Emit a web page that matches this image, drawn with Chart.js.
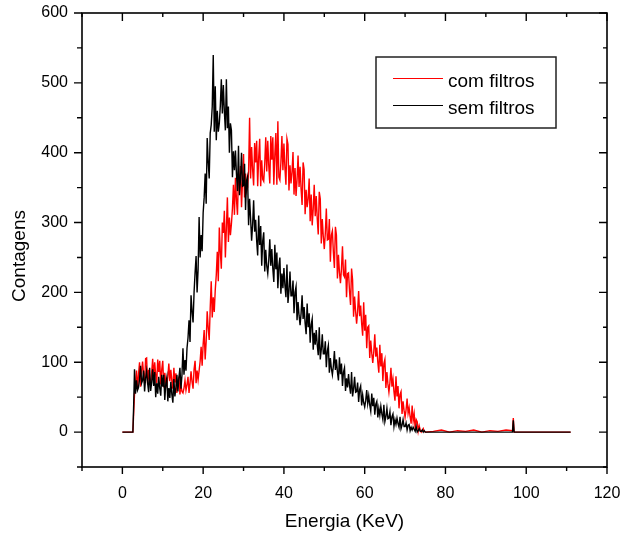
<!DOCTYPE html>
<html><head><meta charset="utf-8">
<script src="https://cdn.jsdelivr.net/npm/chart.js@4"></script>
<style>html,body{margin:0;padding:0;background:#fff;}canvas{display:block;}</style>
</head><body>
<canvas id="c" width="621" height="541"></canvas>
<script>
const energy = [0, 2.6, 2.8,
  3, 3.25, 3.5, 3.75, 4, 4.25, 4.5, 4.75, 5, 5.25, 5.5, 5.75,
  6, 6.25, 6.5, 6.75, 7, 7.25, 7.5, 7.75, 8, 8.25, 8.5, 8.75,
  9, 9.25, 9.5, 9.75, 10, 10.25, 10.5, 10.75, 11, 11.25, 11.5, 11.75,
  12, 12.25, 12.5, 12.75, 13, 13.25, 13.5, 13.75, 14, 14.25, 14.5, 14.75,
  15, 15.25, 15.5, 15.75, 16, 16.25, 16.5, 16.75, 17, 17.25, 17.5, 17.75,
  18, 18.25, 18.5, 18.75, 19, 19.25, 19.5, 19.75, 20, 20.25, 20.5, 20.75,
  21, 21.25, 21.5, 21.75, 22, 22.25, 22.5, 22.75, 23, 23.25, 23.5, 23.75,
  24, 24.25, 24.5, 24.75, 25, 25.25, 25.5, 25.75, 26, 26.25, 26.5, 26.75,
  27, 27.25, 27.5, 27.75, 28, 28.25, 28.5, 28.75, 29, 29.25, 29.5, 29.75,
  30, 30.25, 30.5, 30.75, 31, 31.25, 31.5, 31.75, 32, 32.25, 32.5, 32.75,
  33, 33.25, 33.5, 33.75, 34, 34.25, 34.5, 34.75, 35, 35.25, 35.5, 35.75,
  36, 36.25, 36.5, 36.75, 37, 37.25, 37.5, 37.75, 38, 38.25, 38.5, 38.75,
  39, 39.25, 39.5, 39.75, 40, 40.25, 40.5, 40.75, 41, 41.25, 41.5, 41.75,
  42, 42.25, 42.5, 42.75, 43, 43.25, 43.5, 43.75, 44, 44.25, 44.5, 44.75,
  45, 45.25, 45.5, 45.75, 46, 46.25, 46.5, 46.75, 47, 47.25, 47.5, 47.75,
  48, 48.25, 48.5, 48.75, 49, 49.25, 49.5, 49.75, 50, 50.25, 50.5, 50.75,
  51, 51.25, 51.5, 51.75, 52, 52.25, 52.5, 52.75, 53, 53.25, 53.5, 53.75,
  54, 54.25, 54.5, 54.75, 55, 55.25, 55.5, 55.75, 56, 56.25, 56.5, 56.75,
  57, 57.25, 57.5, 57.75, 58, 58.25, 58.5, 58.75, 59, 59.25, 59.5, 59.75,
  60, 60.25, 60.5, 60.75, 61, 61.25, 61.5, 61.75, 62, 62.25, 62.5, 62.75,
  63, 63.25, 63.5, 63.75, 64, 64.25, 64.5, 64.75, 65, 65.25, 65.5, 65.75,
  66, 66.25, 66.5, 66.75, 67, 67.25, 67.5, 67.75, 68, 68.25, 68.5, 68.75,
  69, 69.25, 69.5, 69.75, 70, 70.25, 70.5, 70.75, 71, 71.25, 71.5, 71.75,
  72, 72.25, 72.5, 72.75, 73, 73.25, 73.5, 73.75, 74, 74.25, 74.5, 74.75,
  75,
  77, 79, 81, 83, 85, 87, 89, 91, 93, 95, 96.6, 96.8, 97, 99, 102, 105, 108, 111];

const semFiltros = [0, 0, 40,
  90, 55, 74, 60, 64, 76, 95, 70, 74, 88, 58, 77,
  88, 70, 57, 92, 59, 71, 90, 66, 86, 50, 70, 55,
  79, 63, 52, 82, 65, 82, 46, 69, 78, 44, 63, 49,
  72, 54, 42, 76, 51, 63, 82, 58, 78, 92, 62, 81,
  120, 82, 103, 88, 120, 135, 160, 129, 196, 173, 157, 200,
  228, 252, 200, 233, 308, 250, 282, 259, 314, 336, 370, 327,
  421, 387, 363, 428, 440, 466, 540, 430, 495, 418, 460, 430,
  442, 467, 505, 456, 497, 459, 432, 505, 435, 466, 400, 442,
  432, 365, 402, 375, 403, 369, 345, 410, 339, 363, 400, 352,
  353, 384, 318, 360, 366, 296, 334, 306, 274, 297, 332, 287,
  304, 274, 253, 310, 268, 295, 238, 274, 286, 230, 261, 238,
  227, 246, 276, 238, 262, 234, 215, 268, 233, 257, 206, 238,
  250, 198, 227, 206, 235, 210, 193, 240, 185, 202, 230, 195,
  195, 217, 170, 200, 208, 160, 186, 167, 153, 170, 196, 162,
  179, 156, 140, 184, 150, 170, 128, 154, 162, 118, 142, 125,
  146, 125, 110, 150, 104, 118, 140, 112, 112, 130, 93, 116,
  124, 85, 106, 91, 82, 95, 116, 89, 104, 86, 74, 107,
  83, 98, 66, 86, 92, 59, 77, 64, 83, 66, 55, 86,
  51, 62, 79, 57, 58, 71, 43, 61, 66, 38, 53, 42,
  36, 45, 60, 41, 52, 39, 30, 55, 37, 49, 25, 40,
  44, 21, 34, 24, 37, 26, 18, 39, 15, 22, 34, 19,
  20, 29, 10, 22, 26, 8, 18, 11, 20, 12, 7, 22,
  5, 10, 18, 8, 8, 13, 3, 10, 11, 2, 7, 3,
  7, 4, 1, 8, 0, 2, 5, 1, 1, 3, 0, 2,
  0,
  0, 0, 0, 0, 0, 0, 0, 0, 0, 0, 0, 17, 0, 0, 0, 0, 0, 0];

const comFiltros = [0, 0, 28,
  54, 67, 88, 61, 83, 100, 65, 87, 101, 83, 70, 105,
  106, 68, 89, 74, 72, 85, 105, 79, 100, 82, 70, 104,
  86, 102, 68, 90, 102, 64, 85, 70, 66, 79, 98, 73,
  89, 73, 62, 92, 71, 84, 56, 74, 78, 54, 67, 58,
  56, 63, 74, 60, 68, 79, 56, 70, 87, 72, 62, 90,
  102, 70, 88, 75, 88, 101, 122, 95, 126, 146, 104, 130,
  173, 149, 132, 178, 216, 164, 193, 172, 204, 225, 258, 216,
  293, 258, 234, 300, 285, 317, 250, 292, 336, 272, 307, 282,
  298, 320, 354, 311, 364, 333, 311, 370, 353, 381, 322, 359,
  398, 336, 370, 345, 350, 373, 450, 363, 408, 376, 353, 414,
  386, 417, 352, 393, 420, 352, 389, 362, 359, 384, 422, 373,
  417, 381, 356, 424, 390, 422, 354, 397, 428, 354, 445, 365,
  361, 386, 424, 375, 413, 378, 354, 420, 412, 346, 382, 356,
  372, 401, 340, 378, 338, 361, 396, 351, 380, 348, 325, 386,
  376, 312, 347, 322, 334, 363, 302, 340, 296, 319, 354, 309,
  338, 306, 283, 344, 334, 270, 305, 280, 262, 285, 320, 275,
  276, 305, 244, 282, 288, 257, 235, 294, 282, 220, 254, 229,
  213, 234, 266, 225, 222, 247, 193, 227, 228, 201, 182, 234,
  218, 165, 194, 173, 155, 173, 202, 166, 181, 155, 138, 186,
  145, 168, 120, 150, 152, 106, 131, 113, 99, 115, 140, 108,
  121, 100, 85, 125, 94, 113, 73, 98, 104, 63, 86, 69,
  57, 71, 92, 65, 76, 58, 45, 80, 51, 66, 34, 54,
  58, 26, 44, 31, 21, 32, 48, 27, 35, 22, 12, 38,
  16, 26, 5, 18, 15, 1, 9, 3, 0, 2, 5, 1,
  0,
  1, 3, 0, 2, 1, 3, 0, 2, 1, 3, 2, 20, 0, 0, 0, 0, 0, 0];

const seriesLabels = ['com filtros', 'sem filtros'];
const xMajorTicks = [0, 20, 40, 60, 80, 100, 120];
const xMinorTicks = [-10, 10, 30, 50, 70, 90, 110];
const yMajorTicks = [0, 100, 200, 300, 400, 500, 600];
const yMinorTicks = [-50, 50, 150, 250, 350, 450, 550];
const xTitle = 'Energia (KeV)';
const yTitle = 'Contagens';

const FONT = '"Liberation Sans", Arial, sans-serif';

const framePlugin = {
  id: 'frame',
  afterDraw(chart) {
    const ctx = chart.ctx, a = chart.chartArea, x = chart.scales.x, y = chart.scales.y;
    ctx.save();
    ctx.strokeStyle = '#000';
    ctx.lineWidth = 1.6;
    ctx.strokeRect(a.left, a.top, a.right - a.left, a.bottom - a.top);
    ctx.lineWidth = 1.4;
    ctx.beginPath();
    xMajorTicks.forEach(v => { const p = x.getPixelForValue(v);
      ctx.moveTo(p, a.bottom); ctx.lineTo(p, a.bottom + 7);
      ctx.moveTo(p, a.top); ctx.lineTo(p, a.top + 8); });
    xMinorTicks.forEach(v => { const p = x.getPixelForValue(v);
      ctx.moveTo(p, a.bottom); ctx.lineTo(p, a.bottom + 4);
      ctx.moveTo(p, a.top); ctx.lineTo(p, a.top + 4); });
    yMajorTicks.forEach(v => { const p = y.getPixelForValue(v);
      ctx.moveTo(a.left, p); ctx.lineTo(a.left - 8, p);
      ctx.moveTo(a.right, p); ctx.lineTo(a.right - 8, p); });
    yMinorTicks.forEach(v => { const p = y.getPixelForValue(v);
      ctx.moveTo(a.left, p); ctx.lineTo(a.left - 5, p);
      ctx.moveTo(a.right, p); ctx.lineTo(a.right - 4, p); });
    ctx.stroke();

    ctx.fillStyle = '#000';
    ctx.font = '19px ' + FONT;
    ctx.textAlign = 'center';
    ctx.textBaseline = 'middle';
    ctx.fillText(xTitle, (a.left + a.right) / 2, 522);
    ctx.save();
    ctx.translate(20, 256);
    ctx.rotate(-Math.PI / 2);
    ctx.fillText(yTitle, 0, 0);
    ctx.restore();

    // legend
    ctx.lineWidth = 1.5;
    ctx.strokeStyle = '#222';
    ctx.strokeRect(376, 57, 180, 71);
    const cols = chart.data.datasets.map(d => d.borderColor);
    ctx.lineWidth = 1.2;
    ctx.strokeStyle = cols[0];
    ctx.beginPath(); ctx.moveTo(393, 78.5); ctx.lineTo(443, 78.5); ctx.stroke();
    ctx.strokeStyle = cols[1];
    ctx.beginPath(); ctx.moveTo(393, 105.5); ctx.lineTo(443, 105.5); ctx.stroke();
    ctx.textAlign = 'left';
    ctx.textBaseline = 'alphabetic';
    ctx.fillText(seriesLabels[0], 448, 86.5);
    ctx.fillText(seriesLabels[1], 448, 113.5);
    ctx.restore();
  }
};

new Chart(document.getElementById('c'), {
  type: 'line',
  data: {
    datasets: [
      { label: seriesLabels[0], data: energy.map((e, i) => ({ x: e, y: comFiltros[i] })),
        borderColor: '#ff0000', borderWidth: 1.4, pointRadius: 0, tension: 0, fill: false, order: 1 },
      { label: seriesLabels[1], data: energy.map((e, i) => ({ x: e, y: semFiltros[i] })),
        borderColor: '#000000', borderWidth: 1.4, pointRadius: 0, tension: 0, fill: false, order: 0 }
    ]
  },
  options: {
    responsive: false, animation: false, devicePixelRatio: 1, events: [],
    layout: { padding: { top: 13, right: 14, left: 0, bottom: 0 } },
    plugins: { legend: { display: false }, tooltip: { enabled: false } },
    scales: {
      x: {
        type: 'linear', min: -10, max: 120,
        afterBuildTicks(s) { s.ticks = xMajorTicks.map(v => ({ value: v })); },
        afterFit(s) { s.height = 74; s.paddingLeft = 0; s.paddingRight = 0; },
        grid: { drawOnChartArea: false, drawTicks: true, tickLength: 8, color: 'rgba(0,0,0,0)' },
        border: { display: false },
        ticks: { font: { family: FONT, size: 16 }, color: '#000', padding: 9, maxRotation: 0, autoSkip: false }
      },
      y: {
        type: 'linear', min: -50, max: 600,
        afterBuildTicks(s) { s.ticks = yMajorTicks.map(v => ({ value: v })); },
        afterFit(s) { s.width = 82; s.paddingTop = 0; s.paddingBottom = 0; },
        grid: { drawOnChartArea: false, drawTicks: true, tickLength: 8, color: 'rgba(0,0,0,0)' },
        border: { display: false },
        ticks: { font: { family: FONT, size: 16 }, color: '#000', padding: 6, autoSkip: false }
      }
    }
  },
  plugins: [framePlugin]
});
</script>
</body></html>
